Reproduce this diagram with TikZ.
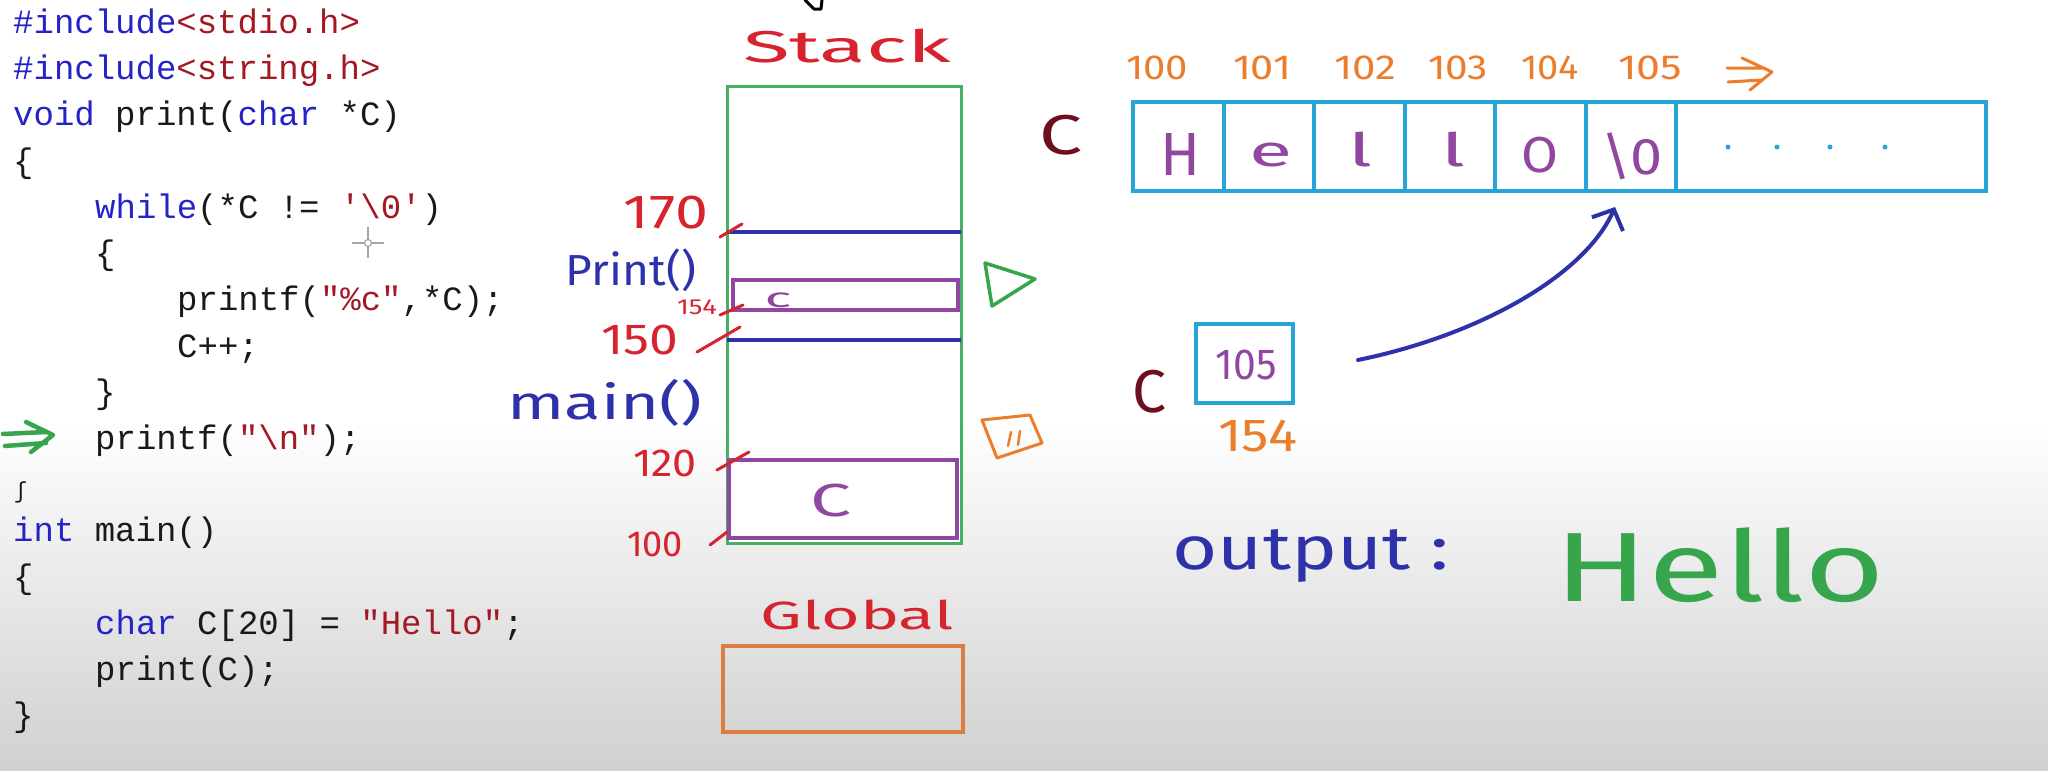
\documentclass[tikz,border=0pt]{standalone}
\usepackage{fontspec}
\usetikzlibrary{arrows.meta}
\newfontfamily\codefont{Liberation Mono}
\newfontfamily\handfont{Fira Sans}
\newfontfamily\symfont{DejaVu Sans Mono}
\definecolor{kwblue}{RGB}{35,35,200}
\definecolor{strred}{RGB}{163,25,35}
\definecolor{codeblack}{RGB}{25,25,25}
\definecolor{hred}{RGB}{215,35,45}
\definecolor{hblue}{RGB}{45,50,170}
\definecolor{sgreen}{RGB}{70,175,100}
\definecolor{hgreen}{RGB}{55,165,75}
\definecolor{hpurple}{RGB}{145,70,160}
\definecolor{horange}{RGB}{235,125,45}
\definecolor{gorange}{RGB}{220,125,65}
\definecolor{acyan}{RGB}{40,165,215}
\definecolor{hmaroon}{RGB}{110,15,30}
\definecolor{bgray}{RGB}{208,208,208}
\newcommand\hw[3]{\resizebox*{#1pt}{#2pt}{\handfont #3}}
\newcommand\ckw[1]{\textcolor{kwblue}{#1}}
\newcommand\cstr[1]{\textcolor{strred}{#1}}
\begin{document}
\begin{tikzpicture}[x=1pt,y=-1pt,
  code/.style={anchor=base west,inner sep=0pt,font=\codefont\fontsize{34}{34}\selectfont,text=codeblack},
  hand/.style={inner sep=0pt,anchor=center},
  tick/.style={draw=hred,line width=3pt,line cap=round},
  cellbox/.style={draw=acyan,line width=4pt,fill=white,minimum height=89pt,inner sep=0pt,anchor=west},
  pen/.style={line width=3.5pt,line cap=round,line join=round}]
\useasboundingbox (0,0) rectangle (2048,771);
\fill[white] (0,0) rectangle (2048,771);
\shade[top color=white,bottom color=bgray] (0,420) rectangle (2048,771);

% ---------------- code ----------------
\node[code] (l0) at (13,33) {\ckw{\#include}\cstr{<stdio.h>}};
\node[code] (l1) at (13,79) {\ckw{\#include}\cstr{<string.h>}};
\node[code] (l2) at (13,125) {\ckw{void} print(\ckw{char} *C)};
\node[code] (l3) at (13,172) {\{};
\node[code] (l4) at (95,218) {\ckw{while}(*C != \cstr{'\textbackslash 0'})};
\node[code] (l5) at (95,264) {\{};
\node[code] (l6) at (177,310) {printf(\cstr{"\%c"},*C);};
\node[code] (l7) at (177,357) {C++;};
\node[code] (l8) at (95,403) {\}};
\node[code] (l9) at (95,449) {printf(\cstr{"\textbackslash n"});};
\node[code,font=\symfont\fontsize{22}{22}\selectfont] (l10) at (14,498) {ʃ};
\node[code] (l11) at (13,541) {\ckw{int} main()};
\node[code] (l12) at (13,588) {\{};
\node[code] (l13) at (95,634) {\ckw{char} C[20] = \cstr{"Hello"};};
\node[code] (l14) at (95,680) {print(C);};
\node[code] (l15) at (13,726) {\}};

% green arrow at printf line
\draw[pen,draw=hgreen,line width=4.5pt] (3,434) -- (46,432) (5,446) -- (46,443) (26,422) -- (53,435) -- (31,452);
% mouse cursor
\draw[gray!70,line width=1.5pt] (352,243) -- (364,243) (372,243) -- (384,243) (368,227) -- (368,239) (368,247) -- (368,258);
\draw[gray!70,line width=1.2pt] (368,243) circle (3.5);

% ---------------- stack ----------------
\node[hand,text=hred] (stacklbl) at (847,46) {\hw{208}{34}{Stack}};
\draw[pen,draw=black,line width=3pt] (805,0) -- (814,9) -- (821,9) -- (822,0);
\node[draw=sgreen,line width=3pt,fill=white,inner sep=0pt,minimum width=234pt,minimum height=457pt] (stack) at (844,314.5) {};
\draw[hblue,line width=3.5pt] (727,232) -- (961,232);
\draw[hblue,line width=3.5pt] (727,340) -- (961,340);
\node[draw=hpurple,line width=3.5pt,inner sep=0pt,minimum width=225pt,minimum height=30pt] (cbox) at (845.5,295) {};
\node[draw=hpurple,line width=3.5pt,inner sep=0pt,minimum width=228pt,minimum height=78pt] (mbox) at (843,499) {};
\node[hand,text=hpurple] (csmall) at (778,300) {\hw{27}{15}{c}};
\node[hand,text=hpurple] (cbig) at (831,501) {\hw{41}{33}{C}};

\node[hand,text=hred] (a170) at (666,213) {\hw{84}{33}{170}};
\node[hand,text=hblue] (printl) at (631,270) {\hw{130}{43}{Print()}};
\node[hand,text=hred] (a154) at (697,307) {\hw{40}{15}{154}};
\node[hand,text=hred] (a150) at (640,340) {\hw{77}{30}{150}};
\node[hand,text=hblue] (mainl) at (605,403) {\hw{195}{47}{main()}};
\node[hand,text=hred] (a120) at (665,463) {\hw{64}{27}{120}};
\node[hand,text=hred] (a100) at (655,544) {\hw{56}{25}{100}};
\draw[tick] (720,237) -- (742,224);
\draw[tick] (720,315) -- (743,305);
\draw[tick] (697,352) -- (740,327);
\draw[tick] (717,470) -- (749,452);
\draw[tick] (710,545) -- (727,532);

% green triangle and orange box marks
\draw[pen,draw=hgreen] (985,263) -- (1035,279) -- (992,306) -- cycle;
\draw[pen,draw=horange,line width=3pt] (982,420) -- (1030,415) -- (1042,443) -- (997,458) -- cycle;
\draw[pen,draw=horange,line width=2.5pt] (1011,432) -- (1008,446) (1020,431) -- (1018,445);

% global
\node[hand,text=hred] (globl) at (857,615) {\hw{193}{30}{Global}};
\node[draw=gorange,line width=4pt,inner sep=0pt,minimum width=240pt,minimum height=86pt] (gbox) at (843,689) {};

% ---------------- array ----------------
\node[hand,text=hmaroon] (carr) at (1061,135) {\hw{43}{40}{C}};
\node[cellbox,minimum width=90.5pt] (c0) at (1131,146.5) {};
\node[cellbox,minimum width=90.5pt] (c1) at (1221.5,146.5) {};
\node[cellbox,minimum width=90.5pt] (c2) at (1312,146.5) {};
\node[cellbox,minimum width=90.5pt] (c3) at (1402.5,146.5) {};
\node[cellbox,minimum width=90.5pt] (c4) at (1493,146.5) {};
\node[cellbox,minimum width=90.5pt] (c5) at (1583.5,146.5) {};
\node[cellbox,minimum width=310pt] (c6) at (1674,146.5) {};
\node[hand,text=hpurple] (tH) at (1180,154) {\hw{40}{42}{H}};
\node[hand,text=hpurple] (te) at (1271,155) {\hw{43}{24}{e}};
\node[hand,text=hpurple] (tl1) at (1360,150) {\hw{24}{35}{l}};
\node[hand,text=hpurple] (tl2) at (1453,150) {\hw{24}{35}{l}};
\node[hand,text=hpurple] (tO) at (1540,155) {\hw{37}{36}{O}};
\node[hand,text=hpurple] (t0) at (1632,156) {\hw{62}{47}{\textbackslash 0}};
\foreach \x in {1728,1777,1830,1885} \fill[acyan] (\x,147) circle (2.5);

\node[hand,text=horange] (d100) at (1157,68) {\hw{62}{24}{100}};
\node[hand,text=horange] (d101) at (1262,68) {\hw{58}{24}{101}};
\node[hand,text=horange] (d102) at (1365,68) {\hw{62}{24}{102}};
\node[hand,text=horange] (d103) at (1458,68) {\hw{60}{24}{103}};
\node[hand,text=horange] (d104) at (1550,68) {\hw{58}{24}{104}};
\node[hand,text=horange] (d105) at (1650,68) {\hw{64}{24}{105}};
\draw[pen,draw=horange,line width=3pt] (1727,68) -- (1765,68) (1728,82) -- (1762,80) (1742,58) -- (1772,72) -- (1750,90);

% ---------------- pointer ----------------
\node[hand,text=hmaroon] (cptr) at (1149,392) {\hw{34}{43}{C}};
\node[draw=acyan,line width=4pt,fill=white,inner sep=0pt,minimum width=97pt,minimum height=79pt] (pbox) at (1244.5,363.5) {};
\node[hand,text=hpurple] (v105) at (1246,365) {\hw{61}{30}{105}};
\node[hand,text=horange] (a154b) at (1258,436) {\hw{80}{32}{154}};
\coordinate (arrS) at (1358,360);
\coordinate (arrE) at (1615,207);
\draw[hblue,line width=4pt,line cap=round,-{Straight Barb[length=16pt,width=34pt]}] (arrS) .. controls (1480,335) and (1585,275) .. (arrE);

% ---------------- output ----------------
\node[hand,text=hblue] (outl) at (1311,556) {\hw{277}{53}{output :}};
\node[hand,text=hgreen] (hello) at (1720,565) {\hw{330}{75}{Hello}};
\end{tikzpicture}
\end{document}
